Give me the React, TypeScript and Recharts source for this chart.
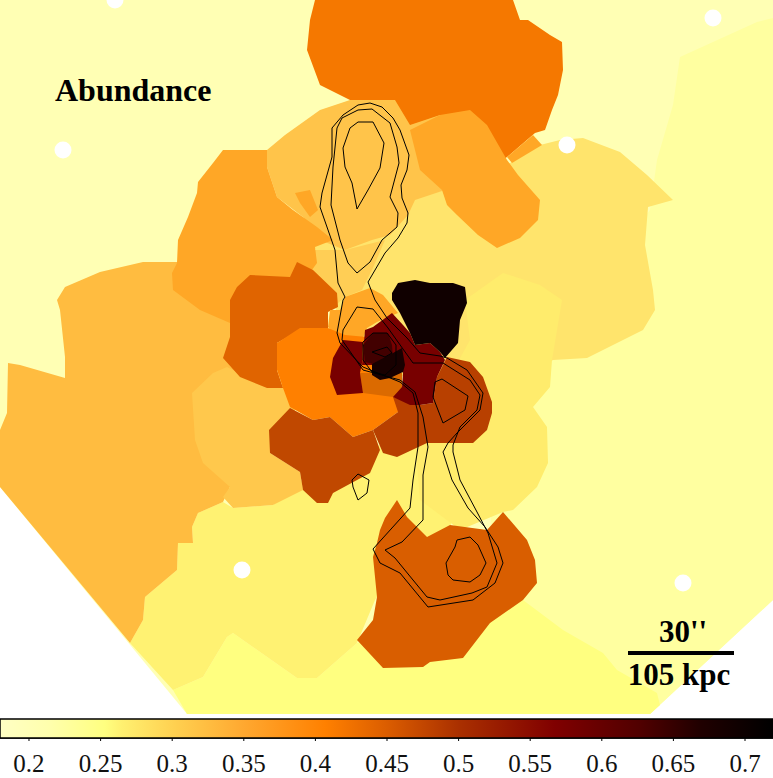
import { ComposedChart, Scatter, XAxis, YAxis } from 'recharts'

type Pt = [number, number]

// region outlines, in sky-pixel coordinates (y grows downwards), painted in this order
const footprint: Pt[] = [[0, 0], [773, 0], [773, 600], [650, 714], [187, 714], [0, 487]]
const eastField: Pt[] = [[773, 18], [757, 22], [680, 57], [673, 105], [657, 160], [650, 210], [480, 420], [500, 600], [650, 714], [773, 600]]
const southField: Pt[] = [[523, 600], [563, 630], [603, 653], [617, 670], [657, 693], [660, 705], [650, 714], [187, 714], [173, 690], [203, 677], [227, 637], [233, 633], [297, 678], [317, 678], [357, 643], [430, 620]]
const southWest: Pt[] = [[130, 643], [143, 620], [145, 597], [177, 570], [178, 543], [193, 543], [192, 527], [198, 513], [223, 502], [233, 508], [273, 505], [303, 480], [340, 470], [370, 450], [390, 440], [430, 430], [460, 470], [450, 530], [400, 560], [375, 600], [357, 643], [317, 678], [297, 678], [233, 633], [227, 637], [203, 677], [173, 690]]
const northEast: Pt[] = [[510, 163], [540, 145], [560, 140], [583, 138], [620, 152], [647, 175], [673, 200], [648, 207], [645, 245], [653, 290], [655, 310], [643, 330], [617, 343], [587, 358], [553, 360], [500, 390], [440, 400], [345, 340], [330, 290], [310, 235], [400, 200], [445, 190]]
const eastBlob: Pt[] = [[503, 273], [540, 285], [562, 300], [552, 360], [550, 387], [533, 407], [547, 427], [548, 463], [537, 487], [513, 510], [503, 512], [460, 530], [420, 500], [415, 440], [470, 340], [465, 300]]
const westField: Pt[] = [[0, 430], [7, 413], [8, 363], [20, 365], [65, 378], [65, 357], [60, 310], [57, 300], [65, 287], [100, 272], [143, 262], [177, 262], [250, 320], [260, 400], [240, 480], [230, 487], [223, 502], [198, 513], [192, 527], [193, 543], [178, 543], [177, 570], [145, 597], [143, 620], [130, 643], [0, 487]]
const westInner: Pt[] = [[192, 393], [213, 373], [227, 367], [253, 380], [283, 385], [295, 410], [285, 450], [270, 453], [300, 472], [303, 490], [273, 505], [233, 508], [223, 497], [230, 487], [203, 463], [195, 440]]
const northTop: Pt[] = [[315, 0], [513, 0], [520, 20], [528, 20], [550, 35], [562, 42], [563, 70], [558, 95], [552, 110], [545, 130], [535, 133], [507, 157], [495, 165], [440, 145], [410, 135], [395, 105], [350, 100], [320, 85], [307, 50], [310, 20]]
const neckFill: Pt[] = [[310, 250], [345, 250], [385, 240], [372, 270], [362, 290], [345, 297], [330, 310], [310, 285]]
const northMid: Pt[] = [[267, 150], [285, 135], [320, 110], [350, 100], [395, 100], [410, 125], [440, 115], [445, 190], [415, 200], [408, 215], [390, 235], [372, 240], [345, 250], [320, 240], [303, 217], [277, 197], [267, 167]]
const northEastLobe: Pt[] = [[440, 115], [470, 110], [487, 125], [507, 160], [518, 175], [540, 200], [538, 220], [520, 238], [497, 248], [478, 235], [457, 215], [447, 205], [442, 190], [420, 170], [410, 130]]
const lobeTip: Pt[] = [[533, 135], [542, 145], [512, 163], [507, 157]]
const westLobe: Pt[] = [[223, 150], [267, 150], [267, 167], [277, 197], [293, 210], [317, 227], [333, 240], [315, 247], [317, 263], [290, 300], [230, 323], [200, 310], [173, 290], [172, 273], [177, 263], [178, 240], [188, 217], [197, 193], [198, 182], [213, 163]]
const lobeSpike: Pt[] = [[295, 193], [310, 190], [318, 210], [310, 217], [300, 203]]
const innerWest: Pt[] = [[230, 300], [237, 287], [250, 275], [290, 277], [297, 262], [313, 270], [337, 293], [338, 307], [328, 312], [328, 330], [300, 330], [277, 343], [277, 370], [283, 388], [267, 388], [240, 377], [223, 358], [230, 337], [230, 323]]
const coreCap: Pt[] = [[330, 310], [340, 310], [345, 297], [370, 288], [383, 295], [398, 313], [377, 322], [367, 328], [363, 338], [337, 338], [328, 327]]
const coreOrange: Pt[] = [[277, 343], [300, 328], [328, 328], [345, 335], [400, 340], [400, 400], [398, 412], [373, 430], [353, 437], [330, 417], [313, 420], [290, 407], [283, 388], [277, 370]]
const coreInnerOrange: Pt[] = [[360, 373], [402, 373], [402, 397], [393, 397], [363, 393]]
const southWestCore: Pt[] = [[290, 408], [313, 420], [330, 417], [353, 437], [373, 430], [380, 450], [370, 473], [333, 493], [328, 503], [317, 503], [303, 490], [300, 472], [270, 453], [269, 430]]
const southEastCore: Pt[] = [[373, 430], [398, 412], [393, 397], [420, 405], [433, 403], [437, 377], [447, 357], [470, 362], [483, 377], [492, 402], [492, 413], [487, 430], [473, 443], [453, 443], [427, 443], [397, 457], [383, 453]]
const redWest: Pt[] = [[330, 377], [333, 358], [343, 340], [363, 342], [362, 363], [360, 373], [363, 393], [337, 395]]
const redEast: Pt[] = [[365, 330], [373, 327], [392, 313], [403, 325], [410, 333], [415, 345], [430, 343], [440, 352], [445, 360], [437, 377], [433, 403], [420, 405], [410, 405], [393, 397], [402, 387], [403, 373], [400, 365], [362, 365]]
const coreDark: Pt[] = [[363, 345], [373, 333], [388, 333], [392, 345], [393, 358], [378, 365], [365, 362]]
const coreBlack: Pt[] = [[372, 364], [393, 353], [402, 348], [405, 365], [403, 372], [390, 378], [380, 380], [372, 375]]
const blackPatch: Pt[] = [[392, 293], [398, 283], [415, 280], [430, 283], [453, 283], [465, 287], [467, 303], [460, 320], [458, 343], [445, 358], [440, 352], [430, 343], [415, 345], [410, 333], [400, 313], [392, 300]]
const southBlob: Pt[] = [[397, 500], [407, 517], [427, 537], [450, 525], [487, 530], [503, 512], [527, 540], [535, 560], [537, 583], [523, 600], [490, 623], [463, 658], [430, 662], [423, 667], [383, 668], [357, 640], [373, 620], [377, 597], [373, 557], [377, 543], [380, 530], [385, 518]]

const regionOutlines = [footprint, eastField, southField, southWest, northEast, eastBlob, westField, westInner, northTop, neckFill, northMid, northEastLobe, lobeTip, westLobe, lobeSpike, innerWest, coreCap, coreOrange, coreInnerOrange, southWestCore, southEastCore, southBlob, redWest, redEast, coreDark, coreBlack, blackPatch]
const regionColors = ['#FFFFB4', '#FFFFA0', '#FFFF80', '#FFF272', '#FFE46C', '#FFEC6C', '#FFBC40', '#FFC84C', '#F57800', '#FFCE55', '#FFC44A', '#FFA726', '#FFA726', '#FFA726', '#FFA726', '#E06400', '#FFA726', '#FF8000', '#DB6A00', '#C04800', '#B84000', '#D95E00', '#780000', '#780000', '#420000', '#180000', '#100000']

// radio contours
const contourOuter: Pt[] = [[358, 105], [370, 103], [382, 107], [393, 118], [400, 130], [409, 155], [407, 170], [401, 185], [402, 198], [408, 213], [407, 223], [398, 238], [385, 253], [368, 282], [375, 300], [387, 318], [407, 338], [420, 353], [440, 356], [447, 358], [467, 370], [483, 393], [480, 410], [457, 433], [448, 443], [443, 452], [452, 480], [468, 508], [485, 527], [498, 547], [503, 563], [495, 583], [473, 600], [428, 607], [400, 573], [380, 563], [373, 549], [410, 508], [413, 480], [418, 447], [418, 413], [413, 393], [400, 382], [363, 367], [340, 343], [337, 333], [343, 300], [345, 297], [338, 283], [335, 250], [320, 207], [322, 193], [332, 157], [332, 128], [343, 115]]
const contourNorth: Pt[] = [[358, 110], [372, 109], [390, 123], [397, 147], [399, 163], [390, 197], [398, 213], [397, 227], [382, 240], [370, 262], [357, 273], [348, 263], [340, 240], [331, 205], [333, 167], [337, 128], [342, 118]]
const contourNorthPeak: Pt[] = [[358, 122], [373, 122], [384, 143], [380, 168], [368, 190], [357, 209], [352, 183], [345, 167], [343, 148], [350, 128]]
const contourSouth: Pt[] = [[357, 307], [373, 309], [388, 328], [413, 363], [443, 363], [470, 380], [480, 395], [477, 410], [460, 427], [453, 445], [453, 452], [460, 480], [477, 512], [488, 533], [497, 563], [487, 587], [472, 593], [440, 600], [427, 597], [413, 580], [395, 558], [385, 550], [402, 542], [423, 520], [423, 475], [428, 447], [423, 417], [415, 392], [400, 380], [363, 370], [342, 340], [343, 330]]
const contourCoreRing: Pt[] = [[363, 342], [373, 333], [387, 333], [396, 345], [396, 365], [385, 375], [372, 372], [363, 360]]
const contourCorePeak: Pt[] = [[372, 352], [387, 347], [392, 353], [385, 357]]
const contourEastPeak: Pt[] = [[442, 379], [468, 396], [465, 410], [443, 423], [433, 397], [435, 382]]
const contourSouthPeak: Pt[] = [[457, 540], [470, 537], [478, 545], [486, 563], [480, 575], [470, 582], [453, 580], [448, 575], [446, 563], [455, 547]]
const contourSmall: Pt[] = [[352, 480], [358, 474], [369, 480], [367, 493], [358, 500], [353, 487]]
const contours = [contourOuter, contourNorth, contourNorthPeak, contourSouth, contourCoreRing, contourCorePeak, contourEastPeak, contourSouthPeak, contourSmall]

// excised point sources
const holes: Pt[] = [[63, 150], [567, 145], [713, 18], [115, 0], [242, 570], [683, 583]]

// 30 arcsec scale bar
const scaleBar: Pt[] = [[628, 653], [734, 653]]

// colour bar
const colorbarTicks = [0.2, 0.25, 0.3, 0.35, 0.4, 0.45, 0.5, 0.55, 0.6, 0.65, 0.7]
const colorValues = [0.18, 0.215, 0.253, 0.265, 0.302, 0.35, 0.407, 0.449, 0.5, 0.567, 0.627, 0.669, 0.7196]
const colorStops = ['#FFFFC4', '#FFFFAC', '#FFFF80', '#FFF070', '#FFD050', '#FFA830', '#FF8000', '#DC5E00', '#AA3000', '#800000', '#500000', '#200000', '#000000']
const BAR_MIN = 0.17975
const BAR_MAX = 0.71955
const colorbarBox: Pt[] = [[BAR_MIN, 0], [BAR_MAX, 0], [BAR_MAX, 1], [BAR_MIN, 1]]

const SERIF = '"Liberation Serif", serif'

const toPoints = (outline: Pt[]) => outline.map(([x, y]) => ({ x, y }))
const noMarker = () => <g />

export default function App() {
    return (
        <div style={{ position: 'absolute', left: 0, top: 0, width: 773, height: 778, background: '#fff' }}>
            <ComposedChart width={773} height={716} margin={{ top: 0, right: 0, bottom: 0, left: 0 }}>
                <XAxis type="number" dataKey="x" domain={[0, 773]} hide />
                <YAxis type="number" dataKey="y" domain={[0, 716]} reversed hide />

                {regionOutlines.map((outline, i) => (
                    <Scatter
                        key={i}
                        data={toPoints(outline)}
                        shape={noMarker}
                        line={{ fill: regionColors[i], stroke: 'none' }}
                        lineJointType="linearClosed"
                        isAnimationActive={false}
                    />
                ))}
                {contours.map((outline, i) => (
                    <Scatter
                        key={i}
                        data={toPoints(outline)}
                        shape={noMarker}
                        line={{ fill: 'none', stroke: '#000', strokeWidth: 1 }}
                        lineJointType="linearClosed"
                        isAnimationActive={false}
                    />
                ))}
                <Scatter
                    data={toPoints(holes)}
                    shape={(p: any) => <circle cx={p.cx} cy={p.cy} r={8.5} fill="#fff" />}
                    isAnimationActive={false}
                />
                <Scatter
                    data={toPoints(scaleBar)}
                    shape={noMarker}
                    line={{ fill: 'none', stroke: '#000', strokeWidth: 4 }}
                    isAnimationActive={false}
                />
            </ComposedChart>

            {/* labels sit above the chart layers */}
            <svg width={773} height={716} style={{ position: 'absolute', left: 0, top: 0, pointerEvents: 'none' }}>
                <text x={55} y={101} fontFamily={SERIF} fontWeight="bold" fontSize={32} fill="#000">Abundance</text>
                <text x={683} y={642} textAnchor="middle" fontFamily={SERIF} fontWeight="bold" fontSize={31} fill="#000">30''</text>
                <text x={679} y={685} textAnchor="middle" fontFamily={SERIF} fontWeight="bold" fontSize={31} fill="#000">105 kpc</text>
            </svg>

            <div style={{ position: 'absolute', left: 0, top: 718 }}>
                <ComposedChart width={773} height={60} margin={{ top: 1, right: 0, bottom: 0, left: 0 }}>
                    <defs>
                        <linearGradient id="abundanceScale" x1="0" y1="0" x2="1" y2="0">
                            {colorValues.map((v, i) => (
                                <stop key={v} offset={(v - BAR_MIN) / (BAR_MAX - BAR_MIN)} stopColor={colorStops[i]} />
                            ))}
                        </linearGradient>
                    </defs>
                    <XAxis
                        type="number"
                        dataKey="x"
                        domain={[BAR_MIN, BAR_MAX]}
                        ticks={colorbarTicks}
                        interval={0}
                        height={40}
                        tickSize={3}
                        tickMargin={13}
                        axisLine={{ stroke: '#000', strokeWidth: 1.5 }}
                        tickLine={{ stroke: '#000' }}
                        tick={{ fontFamily: SERIF, fontSize: 25, fill: '#111' }}
                    />
                    <YAxis type="number" dataKey="y" domain={[0, 1]} hide />
                    <Scatter
                        data={toPoints(colorbarBox)}
                        shape={noMarker}
                        line={{ fill: 'url(#abundanceScale)', stroke: '#000', strokeWidth: 1.5 }}
                        lineJointType="linearClosed"
                        isAnimationActive={false}
                    />
                </ComposedChart>
            </div>
        </div>
    )
}
